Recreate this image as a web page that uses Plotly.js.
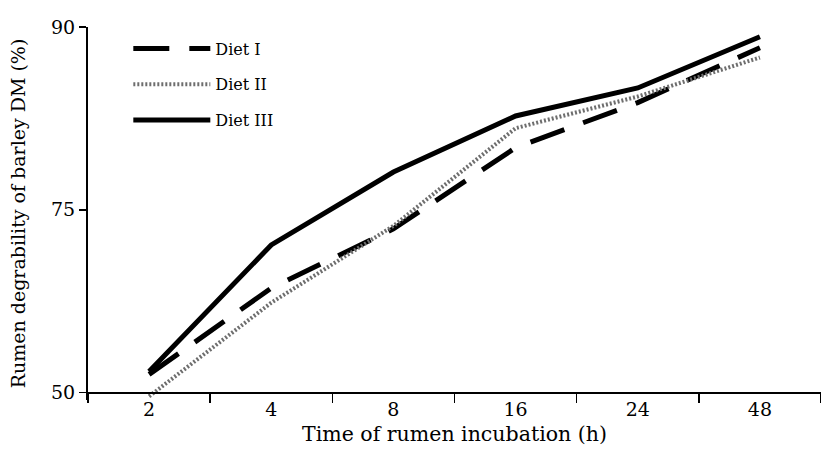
<!DOCTYPE html>
<html><head><meta charset="utf-8">
<script src="https://cdn.plot.ly/plotly-3.0.1.min.js"></script>
<style>html,body{margin:0;padding:0;background:#fff}#chart{width:821px;height:457px}</style>
</head><body><div id="chart"></div>
<script>
const categories = ['2', '4', '8', '16', '24', '48'];
const dietI   = [52.5, 64.3, 72.4, 80.1, 83.8, 88.3];
const dietII  = [49.5, 62.3, 72.8, 81.7, 84.3, 87.5];
const dietIII = [52.9, 70.2, 78.1, 82.7, 85.0, 89.2];
const yTickValues = [50, 75, 90];
const yTickLabels = ['50', '75', '90'];

// The original axis is piecewise: 50-75 and 75-90 take equal length.
function toAxis(v) { return v <= 75 ? (v - 50) / 25 : 1 + (v - 75) / 15; }

const yMin = -0.04, yMax = 2;
const serif = 'DejaVu Serif, Liberation Serif, serif';

const traces = [
  {name: 'Diet I', y: dietI, line: {color: '#000', width: 5, dash: '36px,20px'}},
  {name: 'Diet II', y: dietII, line: {color: '#6e6e6e', width: 4, dash: '2px,2px'}},
  {name: 'Diet III', y: dietIII, line: {color: '#000', width: 5}}
].map((t, i) => ({
  type: 'scatter', mode: 'lines', x: categories, y: t.y.map(toAxis),
  customdata: t.y, hovertemplate: '%{x} h: %{customdata}%<extra>' + t.name + '</extra>',
  name: t.name, line: t.line, legendgroup: 'g' + i
}));

const layout = {
  width: 821, height: 457,
  margin: {l: 88, r: 0, t: 27, b: 57},
  paper_bgcolor: '#fff', plot_bgcolor: '#fff',
  font: {family: serif, color: '#000', size: 19},
  showlegend: true,
  legend: {x: 0.055, y: 0.988, xanchor: 'left', yanchor: 'top', bgcolor: 'rgba(0,0,0,0)',
           font: {family: serif, size: 16}, traceorder: 'grouped', tracegroupgap: 12, itemwidth: 77},
  xaxis: {
    type: 'category', range: [-0.5, 5.5], anchor: 'free', position: (0 - yMin) / (yMax - yMin),
    showline: true, linecolor: '#000', linewidth: 2, showgrid: false, zeroline: false,
    ticks: 'outside', tickson: 'boundaries', ticklen: 9, tickwidth: 1.5, tickcolor: '#000',
    tickfont: {family: serif, size: 19},
    title: {text: 'Time of rumen incubation (h)', font: {family: serif, size: 20.5}, standoff: 6}
  },
  yaxis: {
    range: [yMin, yMax], tickvals: yTickValues.map(toAxis), ticktext: yTickLabels,
    showline: true, linecolor: '#000', linewidth: 2, showgrid: false, zeroline: false,
    ticks: 'outside', ticklen: 7, tickwidth: 1.5, tickcolor: '#000',
    tickfont: {family: serif, size: 19},
    title: {text: 'Rumen degrability of barley DM (%)', font: {family: serif, size: 19}, standoff: 20}
  }
};
Plotly.newPlot('chart', traces, layout, {displayModeBar: false, staticPlot: true});
</script></body></html>
